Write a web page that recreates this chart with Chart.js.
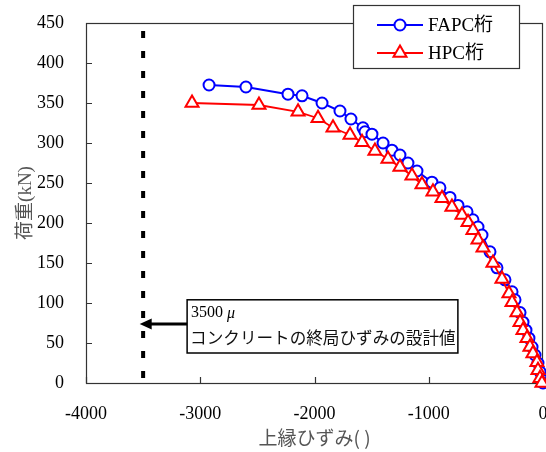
<!DOCTYPE html>
<html><head><meta charset="utf-8">
<script src="https://cdn.jsdelivr.net/npm/chart.js@4"></script>
<style>html,body{margin:0;padding:0;background:#fff;}#wrap{width:546px;height:452px;}</style>
</head><body><div id="wrap"><canvas id="c" width="546" height="452"></canvas></div>
<script>
const fapcStrain = [-2923,-2600,-2232,-2109,-1934,-1777,-1681,-1576,-1558,-1497,-1400,-1322,-1252,-1182,-1103,-972,-902,-814,-744,-665,-613,-569,-534,-464,-403,-333,-271,-245,-201,-175,-149,-123,-96,-70,-44,-26,-9,0];
const fapcLoad = [372.5,370,361,359,350,340,330,319,314,311,300,291,285,275,265,251,244,232,222,214,204,195,185,164,144,129,114,104,88,76,66,56,45,35,25,14,4,0];
const hpcStrain = [-3072,-2486,-2144,-1969,-1838,-1689,-1584,-1471,-1357,-1252,-1147,-1059,-963,-884,-797,-709,-656,-613,-569,-525,-438,-359,-298,-271,-228,-201,-175,-140,-114,-88,-53,-44,-26,-9];
const hpcLoad = [350,347.5,339,331,319,310,301,290,280,270,259,248,239,231,220,210,201,191,179,169,150,130,112,101,88,76,66,56,45,37,26,16,6,0];
const limitStrain = -3500;
const seriesNames = ['FAPC桁','HPC桁'];
const xTicks = [-4000,-3000,-2000,-1000,0];
const yTicks = [0,50,100,150,200,250,300,350,400,450];
const noteLines = ['3500', 'コンクリートの終局ひずみの設計値'];
const xTitle = '上縁ひずみ( )';
const yTitle = '荷重(kN)';

const SERIF = "'Liberation Serif','Noto Sans CJK JP'";
const GOTH = "'Noto Sans CJK JP','Noto Sans',sans-serif";

const toXY = (xs, ys) => xs.map((x, i) => ({x, y: ys[i]}));

const deco = {
  id: 'deco',
  beforeDatasetsDraw(chart) {
    const {ctx, chartArea: a, scales: {x, y}} = chart;
    ctx.save();
    ctx.strokeStyle = '#333';
    ctx.lineWidth = 1.2;
    ctx.beginPath();
    xTicks.forEach(v => { const px = Math.round(x.getPixelForValue(v)) + 0.5; ctx.moveTo(px, a.bottom); ctx.lineTo(px, a.bottom - 6); });
    yTicks.forEach(v => { const py = Math.round(y.getPixelForValue(v)) + 0.5; ctx.moveTo(a.left, py); ctx.lineTo(a.left + 6, py); });
    ctx.stroke();
    ctx.strokeRect(a.left + 0.5, a.top + 0.5, a.right - a.left - 1, a.bottom - a.top);
    ctx.restore();
  },
  afterDatasetsDraw(chart) {
    const {ctx, scales: {x, y}} = chart;
    ctx.save();
    const bx1 = x.getPixelForValue(-3115), bx2 = x.getPixelForValue(-745);
    const by1 = y.getPixelForValue(104), by2 = y.getPixelForValue(37.5);
    ctx.fillStyle = '#fff';
    ctx.fillRect(bx1, by1, bx2 - bx1, by2 - by1);
    ctx.strokeStyle = '#000';
    ctx.lineWidth = 1.5;
    ctx.strokeRect(bx1, by1, bx2 - bx1, by2 - by1);
    const ay = y.getPixelForValue(73.75);
    const tip = x.getPixelForValue(-3530);
    ctx.lineWidth = 3;
    ctx.beginPath(); ctx.moveTo(bx1, ay); ctx.lineTo(tip + 9, ay); ctx.stroke();
    ctx.fillStyle = '#000';
    ctx.beginPath(); ctx.moveTo(tip, ay); ctx.lineTo(tip + 12, ay - 5.5); ctx.lineTo(tip + 12, ay + 5.5); ctx.closePath(); ctx.fill();
    ctx.fillStyle = '#000';
    ctx.textBaseline = 'middle';
    ctx.textAlign = 'left';
    ctx.font = "16px " + SERIF;
    ctx.fillText(noteLines[0], bx1 + 4, by1 + 13);
    const w = ctx.measureText(noteLines[0] + ' ').width;
    ctx.font = "italic 16px " + SERIF;
    ctx.fillText('μ', bx1 + 4 + w, by1 + 14);
    ctx.font = "16.6px " + GOTH;
    ctx.fillStyle = '#111';
    ctx.fillText(noteLines[1], bx1 + 3, by1 + 38);

    const lx = 353, ly = 5, lw = 166, lh = 63;
    ctx.fillStyle = '#fff';
    ctx.fillRect(lx, ly, lw, lh);
    ctx.strokeStyle = '#333';
    ctx.lineWidth = 1.2;
    ctx.strokeRect(lx + 0.5, ly + 0.5, lw, lh);
    const rows = [{c:'#0000ff', t: seriesNames[0], m:'circle', yy: 25}, {c:'#ff0000', t: seriesNames[1], m:'tri', yy: 53}];
    rows.forEach(r => {
      ctx.strokeStyle = r.c; ctx.lineWidth = 2;
      ctx.beginPath(); ctx.moveTo(377, r.yy); ctx.lineTo(423, r.yy); ctx.stroke();
      ctx.fillStyle = '#fff';
      ctx.beginPath();
      if (r.m === 'circle') { ctx.arc(400, r.yy, 5.5, 0, Math.PI * 2); }
      else { const rr = 7.5; ctx.moveTo(400, r.yy - rr); ctx.lineTo(400 + rr * 0.866, r.yy + rr * 0.5); ctx.lineTo(400 - rr * 0.866, r.yy + rr * 0.5); ctx.closePath(); }
      ctx.fill(); ctx.stroke();
      ctx.fillStyle = '#000';
      ctx.font = "19px " + SERIF;
      ctx.textBaseline = 'middle';
      ctx.fillText(r.t, 428, r.yy + 1);
    });
    ctx.restore();
  }
};

new Chart(document.getElementById('c'), {
  type: 'scatter',
  data: {
    datasets: [
      { label: seriesNames[1], data: toXY(hpcStrain, hpcLoad), showLine: true, borderColor: '#ff0000', backgroundColor: '#fff',
        borderWidth: 1.8, pointStyle: 'triangle', pointRadius: 7.5, pointBorderWidth: 2, pointHoverRadius: 7.5, order: 0, clip: false },
      { label: seriesNames[0], data: toXY(fapcStrain, fapcLoad), showLine: true, borderColor: '#0000ff', backgroundColor: '#fff',
        borderWidth: 2, pointStyle: 'circle', pointRadius: 5.5, pointBorderWidth: 2, pointHoverRadius: 5.5, order: 1, clip: false },
      { label: 'limit', data: [{x: limitStrain, y: 450}, {x: limitStrain, y: 0}], showLine: true, borderColor: '#000',
        borderWidth: 4, borderDash: [7, 13], borderDashOffset: -8, pointRadius: 0, order: 2, borderCapStyle: 'butt' }
    ]
  },
  options: {
    responsive: false,
    animation: false,
    events: [],
    layout: { autoPadding: false, padding: { top: 23, right: 3, left: 0, bottom: 0 } },
    plugins: { legend: { display: false }, tooltip: { enabled: false } },
    scales: {
      x: {
        type: 'linear', min: -4000, max: 0,
        afterBuildTicks: s => { s.ticks = xTicks.map(v => ({value: v})); },
        afterFit: s => { s.height = 69; s.paddingLeft = 0; s.paddingRight = 0; },
        grid: { display: false, drawTicks: false },
        border: { display: false },
        ticks: { color: '#000', font: { family: SERIF, size: 18 }, padding: 20, maxRotation: 0, autoSkip: false, callback: v => String(v) },
        title: { display: true, text: xTitle, color: '#555', font: { family: GOTH, size: 19 }, padding: { top: 0, bottom: 3 } }
      },
      y: {
        type: 'linear', min: 0, max: 450,
        afterBuildTicks: s => { s.ticks = yTicks.map(v => ({value: v})); },
        afterFit: s => { s.width = 86; s.paddingTop = 0; s.paddingBottom = 0; },
        grid: { display: false, drawTicks: false },
        border: { display: false },
        ticks: { color: '#000', font: { family: SERIF, size: 18 }, padding: 22, autoSkip: false, callback: v => String(v) },
        title: { display: true, text: yTitle, color: '#555', font: { family: SERIF, size: 19 }, padding: { top: 15, bottom: 0 } }
      }
    }
  },
  plugins: [deco]
});
</script></body></html>
